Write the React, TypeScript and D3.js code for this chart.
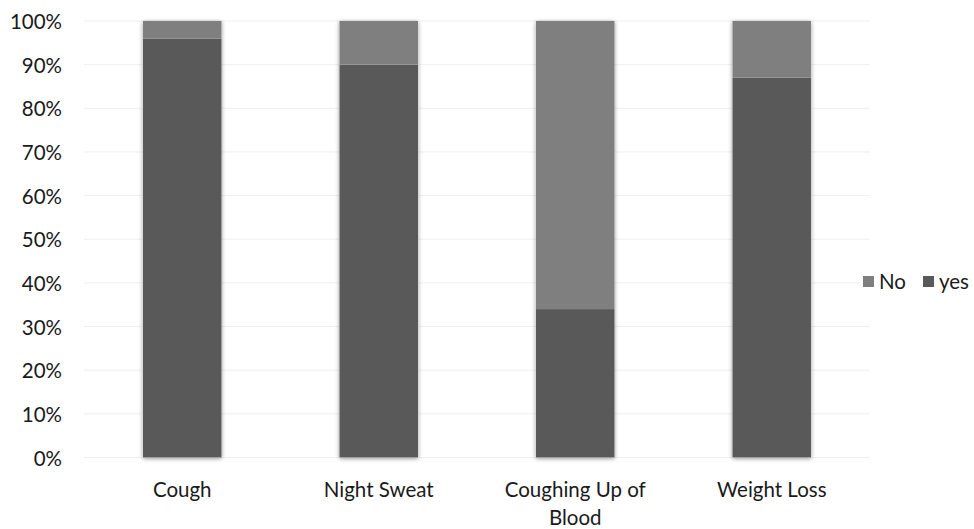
import React from "react";
import * as d3 from "d3";

const categories = ["Cough", "Night Sweat", "Coughing Up of Blood", "Weight Loss"];
const categoryLines = [["Cough"], ["Night Sweat"], ["Coughing Up of", "Blood"], ["Weight Loss"]];
const yesValues = [96, 90, 34, 87];
const noValues = [4, 10, 66, 13];
const seriesNames = ["No", "yes"];
const seriesColors = ["#7f7f7f", "#595959"];
const yTicks = [0, 10, 20, 30, 40, 50, 60, 70, 80, 90, 100];

const W = 974;
const H = 529;
const left = 84;
const right = 870;
const top = 21;
const bottom = 457.5;
const font = "Lato, 'Open Sans', sans-serif";

export default function App() {
  const x = d3.scaleBand<string>().domain(categories).range([left, right]).paddingInner(0.6).paddingOuter(0.3);
  const y = d3.scaleLinear().domain([0, 100]).range([bottom, top]);
  const data = categories.map((c, i) => ({ cat: c, yes: yesValues[i], No: noValues[i] }));
  const stack = d3.stack<any>().keys(["yes", "No"]);
  const layers = stack(data);

  return (
    <svg width={W} height={H} style={{ position: "absolute", left: 0, top: 0 }}>
      <defs>
        <filter id="sh" x="-20%" y="-5%" width="140%" height="110%">
          <feDropShadow dx="0" dy="1" stdDeviation="2.2" floodColor="#000" floodOpacity="0.45" />
        </filter>
      </defs>
      <rect width={W} height={H} fill="#fff" />
      {yTicks.map((t) => (
        <g key={t}>
          <line x1={left} x2={right} y1={y(t)} y2={y(t)} stroke="#efefef" strokeWidth={1} />
          <text x={62} y={y(t)} textAnchor="end" dominantBaseline="central" fontFamily={font} fontSize={20.5} fill="#1a1a1a">
            {t}%
          </text>
        </g>
      ))}
      {data.map((d, i) => {
        const yesL = layers[0][i];
        const noL = layers[1][i];
        const bx = x(d.cat)!;
        const bw = x.bandwidth();
        return (
          <g key={d.cat}>
            <rect x={bx} y={y(noL[1])} width={bw} height={y(yesL[0]) - y(noL[1])} fill="#fff" filter="url(#sh)" />
            <rect x={bx} y={y(yesL[1])} width={bw} height={y(yesL[0]) - y(yesL[1])} fill={seriesColors[1]} />
            <rect x={bx} y={y(noL[1])} width={bw} height={y(noL[0]) - y(noL[1])} fill={seriesColors[0]} />
          </g>
        );
      })}
      {categories.map((c, i) => (
        <text key={c} x={x(c)! + x.bandwidth() / 2} y={497} textAnchor="middle" fontFamily={font} fontSize={20.5} fill="#1a1a1a">
          {categoryLines[i].map((ln, j) => (
            <tspan key={j} x={x(c)! + x.bandwidth() / 2} dy={j === 0 ? 0 : 28}>
              {ln}
            </tspan>
          ))}
        </text>
      ))}
      {seriesNames.map((s, i) => {
        const lx = i === 0 ? 863 : 923;
        return (
          <g key={s}>
            <rect x={lx} y={276} width={11} height={11} fill={seriesColors[i]} />
            <text x={lx + 16} y={289} fontFamily={font} fontSize={20.5} fill="#1a1a1a">
              {s}
            </text>
          </g>
        );
      })}
    </svg>
  );
}
